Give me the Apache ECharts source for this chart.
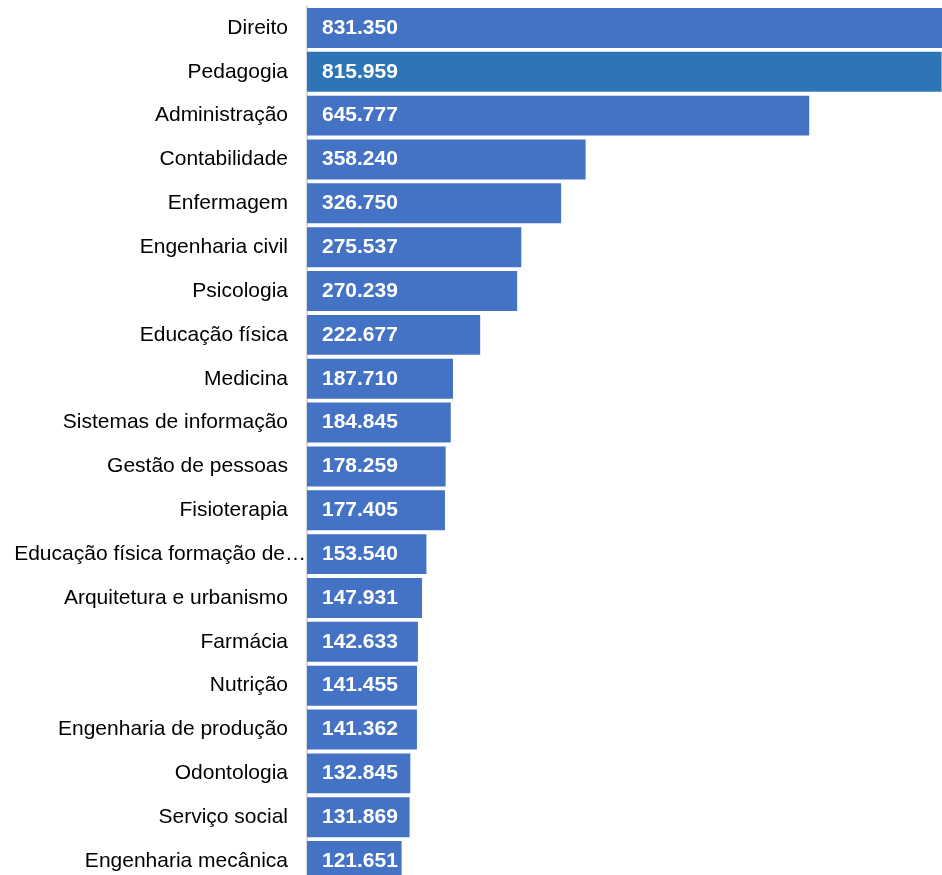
<!DOCTYPE html>
<html>
<head>
<meta charset="utf-8">
<script src="https://cdn.jsdelivr.net/npm/echarts@6/dist/echarts.min.js"></script>
<style>
  html, body { margin: 0; padding: 0; background: #fff; overflow: hidden; }
  /* the plot runs a little past the bottom edge of the page */
  #chart { width: 942px; height: 883px; }
</style>
</head>
<body>
<div id="chart"></div>
<script>
// Courses, ordered from largest to smallest enrolment
const courses = [
  'Direito', 'Pedagogia', 'Administração', 'Contabilidade', 'Enfermagem',
  'Engenharia civil', 'Psicologia', 'Educação física', 'Medicina',
  'Sistemas de informação', 'Gestão de pessoas', 'Fisioterapia',
  'Educação física formação de professores', 'Arquitetura e urbanismo',
  'Farmácia', 'Nutrição', 'Engenharia de produção', 'Odontologia',
  'Serviço social', 'Engenharia mecânica'
];
const enrolments = [
  831350, 815959, 645777, 358240, 326750,
  275537, 270239, 222677, 187710,
  184845, 178259, 177405,
  153540, 147931,
  142633, 141455, 141362, 132845,
  131869, 121651
];
const highlighted = 'Pedagogia';

const baseColor = '#4472C4';
const highlightColor = '#2E75B6';
const maxChars = 27;

const fmt = v => v.toLocaleString('pt-BR');
const shorten = name => name.length > maxChars ? name.slice(0, maxChars) + '…' : name;

// A shortened name spills slightly past the label column
const categoryData = courses.map(name => {
  const item = { value: name };
  if (name.length > maxChars) {
    item.textStyle = { padding: [0, -18, 0, 0] };
  }
  return item;
});

const chart = echarts.init(document.getElementById('chart'), null, { renderer: 'canvas' });
chart.setOption({
  animation: false,
  grid: { left: 307, right: 0, top: 6, bottom: 0, containLabel: false },
  xAxis: {
    type: 'value',
    min: 0,
    max: 816500,
    show: false
  },
  yAxis: {
    type: 'category',
    inverse: true,
    data: categoryData,
    axisLine: { show: true, lineStyle: { color: '#d9d9d9', width: 2 } },
    axisTick: { show: false },
    axisLabel: {
      margin: 19,
      color: '#000',
      fontFamily: 'Liberation Sans, Arial, sans-serif',
      fontSize: 21,
      formatter: shorten
    }
  },
  series: [{
    type: 'bar',
    barCategoryGap: '9%',
    clip: true,
    data: enrolments.map((v, i) => ({
      value: v,
      itemStyle: { color: courses[i] === highlighted ? highlightColor : baseColor }
    })),
    label: {
      show: true,
      position: 'insideLeft',
      distance: 15,
      color: '#fff',
      fontFamily: 'Liberation Sans, Arial, sans-serif',
      fontWeight: 'bold',
      fontSize: 21,
      formatter: p => fmt(p.value)
    }
  }]
});
</script>
</body>
</html>
